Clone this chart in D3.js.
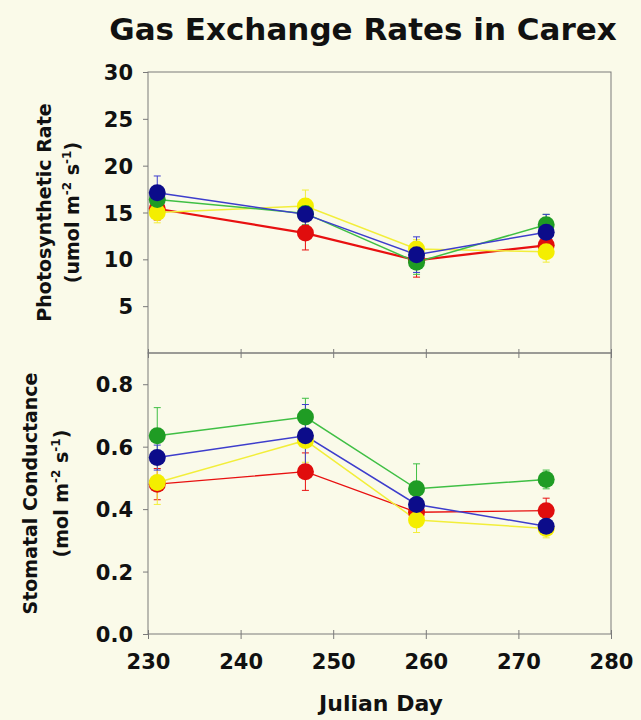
<!DOCTYPE html>
<html>
<head>
<meta charset="utf-8">
<title>Gas Exchange Rates in Carex</title>
<script src="https://d3js.org/d3.v7.min.js"></script>
<style>
  body { margin: 0; background: #fafae9; }
  svg { display: block; }
  text { font-family: "DejaVu Sans", sans-serif; font-weight: bold; fill: #111; }
  .frame { fill: none; stroke: #7a7a7a; stroke-width: 1; }
</style>
</head>
<body>
<div id="chart"></div>
<script>
// ---- data ----
const days = [231, 247, 259, 273];
const xTicks = [230, 240, 250, 260, 270, 280];
const photoTicks = [5, 10, 15, 20, 25, 30];
const condTicks = [0.0, 0.2, 0.4, 0.6, 0.8];

// series drawn in this order (last on top)
const seriesNames = ["red", "yellow", "green", "blue"];

const photoRed    = [15.4, 12.8, 9.9, 11.5];
const photoYellow = [15.0, 15.7, 11.1, 10.8];
const photoGreen  = [16.4, 14.9, 9.7, 13.7];
const photoBlue   = [17.1, 14.8, 10.5, 12.9];

const photoRedErr    = [1.2, 1.8, 1.8, 0.8];
const photoYellowErr = [1.1, 1.7, 1.0, 1.1];
const photoGreenErr  = [1.0, 1.2, 1.3, 1.1];
const photoBlueErr   = [1.8, 1.6, 1.9, 1.9];

const condRed    = [0.48, 0.52, 0.39, 0.395];
const condYellow = [0.485, 0.62, 0.365, 0.338];
const condGreen  = [0.635, 0.695, 0.465, 0.495];
const condBlue   = [0.565, 0.635, 0.415, 0.345];

const condRedErr    = [0.05, 0.06, 0.03, 0.04];
const condYellowErr = [0.07, 0.07, 0.04, 0.03];
const condGreenErr  = [0.09, 0.06, 0.08, 0.03];
const condBlueErr   = [0.04, 0.10, 0.03, 0.02];

const markerColor = { red: "#e00d0d", yellow: "#f4ee00", green: "#1f9c24", blue: "#0c0c8a" };
const lineColor   = { red: "#e81010", yellow: "#f2ee3a", green: "#3fbf44", blue: "#3d3dcc" };

// ---- layout ----
const width = 641, height = 720;
const left = 148, right = 611;

const svg = d3.select("#chart").append("svg")
  .attr("width", width).attr("height", height);

svg.append("rect").attr("width", width).attr("height", height).attr("fill", "#fafae9");

const x = d3.scaleLinear().domain([230, 280]).range([left, right]);

function styleTickText(sel) {
  sel.style("font-size", "21px").style("font-family", "DejaVu Sans")
    .style("font-weight", "bold").attr("fill", "#111");
}

function panel(opts) {
  const y = d3.scaleLinear().domain(opts.domain).range([opts.bottom, opts.top]);
  const g = svg.append("g");

  g.append("rect").attr("class", "frame")
    .attr("x", left).attr("y", opts.top)
    .attr("width", right - left).attr("height", opts.bottom - opts.top);

  // y ticks (outside) and labels
  const yAxis = d3.axisLeft(y).tickValues(opts.ticks).tickSize(5).tickFormat(opts.fmt);
  const ya = g.append("g").attr("transform", `translate(${left},0)`).call(yAxis);
  ya.select(".domain").remove();
  ya.selectAll(".tick line").attr("stroke", "#7a7a7a");
  ya.selectAll(".tick text").attr("x", -15).attr("dy", "0.36em").call(styleTickText);

  // x ticks on the bottom edge of each panel
  const xAxis = d3.axisBottom(x).tickValues(xTicks).tickSize(5).tickFormat(opts.showX ? d3.format("d") : "");
  const xa = g.append("g").attr("transform", `translate(0,${opts.bottom})`).call(xAxis);
  xa.select(".domain").remove();
  xa.selectAll(".tick line").attr("stroke", "#7a7a7a").attr("y1", -4);
  xa.selectAll(".tick text").attr("y", 20).attr("dy", "0.71em").call(styleTickText);

  const line = d3.line().x((d, i) => x(days[i])).y(d => y(d));

  // error bars
  opts.series.forEach(s => {
    const c = g.append("g").attr("stroke", lineColor[s.name]).attr("stroke-width", 1);
    s.vals.forEach((v, i) => {
      const cx = x(days[i]), e = s.err[i];
      c.append("line").attr("x1", cx).attr("x2", cx)
        .attr("y1", y(v - e)).attr("y2", y(v + e));
      [v - e, v + e].forEach(t => c.append("line")
        .attr("x1", cx - 3.5).attr("x2", cx + 3.5)
        .attr("y1", y(t)).attr("y2", y(t)));
    });
  });

  opts.series.forEach(s => {
    g.append("path").datum(s.vals)
      .attr("d", line).attr("fill", "none")
      .attr("stroke", lineColor[s.name]).attr("stroke-width", opts.widths[s.name]);
  });

  opts.series.forEach(s => {
    g.selectAll(null).data(s.vals).enter().append("circle")
      .attr("cx", (d, i) => x(days[i])).attr("cy", d => y(d))
      .attr("r", 8.5).attr("fill", markerColor[s.name]);
  });

  // rotated axis title, two lines
  const t = g.append("text")
    .attr("transform", `translate(${opts.labelX},${(opts.top + opts.bottom) / 2}) rotate(-90)`)
    .attr("text-anchor", "middle").style("font-size", "19px");
  t.append("tspan").attr("x", 0).attr("dy", 0).text(opts.label);
  const t2 = t.append("tspan").attr("x", 0).attr("dy", opts.lineGap);
  t2.append("tspan").text(opts.unit);
  t2.append("tspan").text(" m");
  t2.append("tspan").attr("dy", -8).style("font-size", "12px").text("-2");
  t2.append("tspan").attr("dy", 8).text(" s");
  t2.append("tspan").attr("dy", -8).style("font-size", "12px").text("-1");
  t2.append("tspan").attr("dy", 8).text(")");
}

const order = (arrs, errs) => seriesNames.map(n => ({ name: n, vals: arrs[n], err: errs[n] }));

panel({
  top: 72, bottom: 353, domain: [0, 30], ticks: photoTicks, fmt: d3.format("d"), showX: false,
  series: order({ red: photoRed, yellow: photoYellow, green: photoGreen, blue: photoBlue },
                { red: photoRedErr, yellow: photoYellowErr, green: photoGreenErr, blue: photoBlueErr }),
  widths: { red: 2.2, yellow: 1.5, green: 1.5, blue: 1.5 },
  label: "Photosynthetic Rate", unit: "(umol", labelX: 51, lineGap: 28
});

panel({
  top: 353, bottom: 634, domain: [0, 0.9], ticks: condTicks, fmt: d3.format(".1f"), showX: true,
  series: order({ red: condRed, yellow: condYellow, green: condGreen, blue: condBlue },
                { red: condRedErr, yellow: condYellowErr, green: condGreenErr, blue: condBlueErr }),
  widths: { red: 1.3, yellow: 1.5, green: 1.5, blue: 1.5 },
  label: "Stomatal Conductance", unit: "(mol", labelX: 37, lineGap: 31
});

svg.append("text").attr("x", 363).attr("y", 40).attr("text-anchor", "middle")
  .style("font-size", "31px").text("Gas Exchange Rates in Carex");

svg.append("text").attr("x", 381).attr("y", 711).attr("text-anchor", "middle")
  .style("font-size", "22px").text("Julian Day");
</script>
</body>
</html>
